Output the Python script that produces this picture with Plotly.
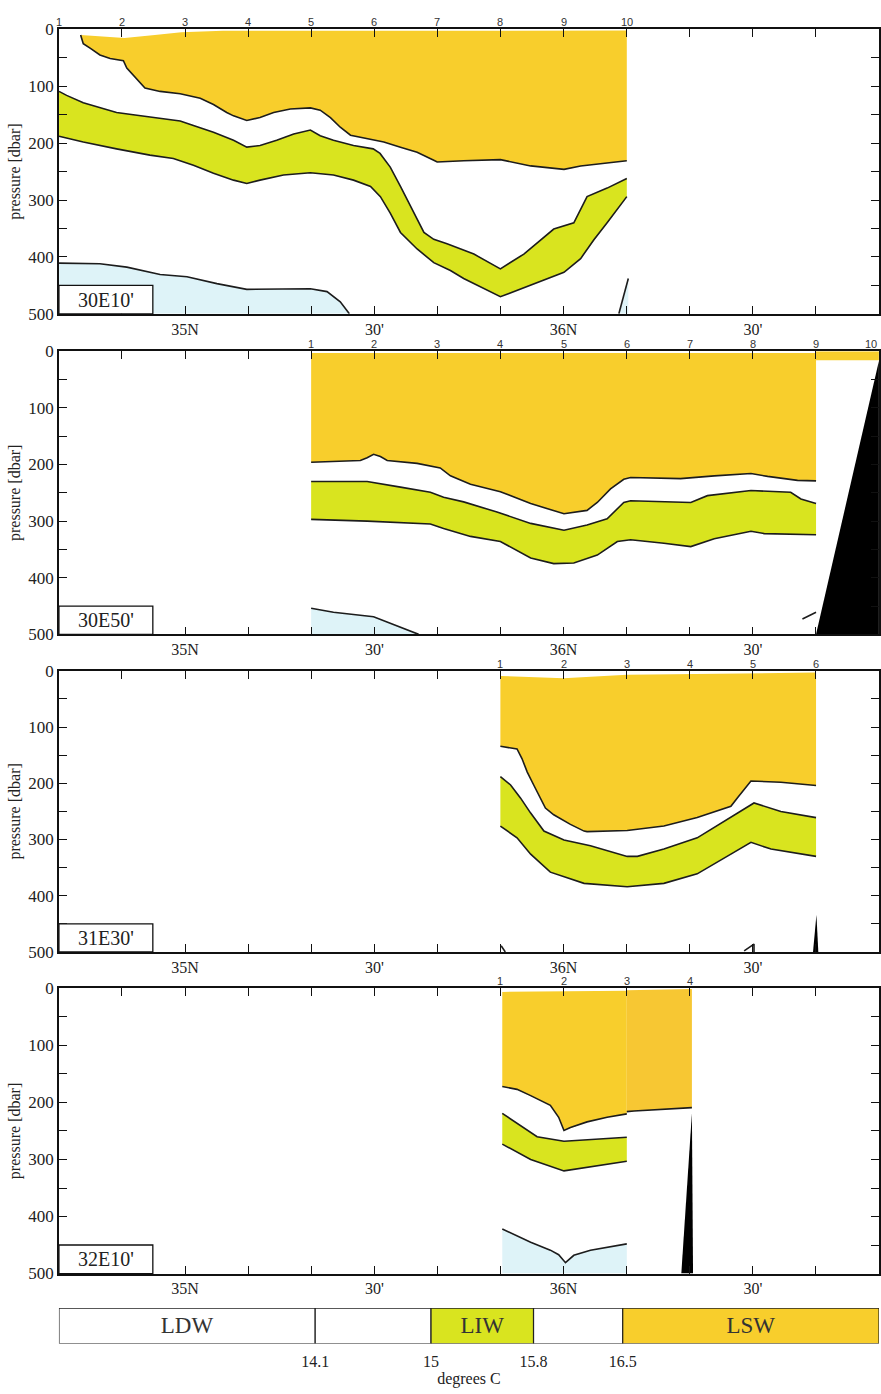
import numpy as np
import plotly.graph_objects as go

# ---------------------------------------------------------------------------
# Water-mass sections along four meridians (latitude in degrees N, pressure in dbar)
# ---------------------------------------------------------------------------
SECTION_NAMES = ["30E10'", "30E50'", "31E30'", "32E10'"]

LAT_RANGE = [34.6667, 36.8333]
P_MAX = 500

# latitude ticks every 10 minutes
TICK_LAT = [34.6667, 34.8333, 35.0, 35.1667, 35.3333, 35.5, 35.6667,
            35.8333, 36.0, 36.1667, 36.3333, 36.5, 36.6667, 36.8333]
TICK_LAT_TEXT = ["", "", "35N", "", "", "30'", "", "", "36N", "", "", "30'", "", ""]
TICK_P = [0, 50, 100, 150, 200, 250, 300, 350, 400, 450, 500]
TICK_P_TEXT = ["0", "", "100", "", "200", "", "300", "", "400", "", "500"]

# station positions per section
st1_lat = [34.6667, 34.8333, 35.0, 35.1667, 35.3333, 35.5, 35.6667, 35.8333, 36.0, 36.1667]
st2_lat = [35.3333, 35.5, 35.6667, 35.8333, 36.0, 36.1667, 36.3333, 36.5, 36.6667, 36.8333]
st3_lat = [35.8333, 36.0, 36.1667, 36.3333, 36.5, 36.6667]
st4_lat = [35.8333, 36.0, 36.1667, 36.3333]

# ---- section 1 : 30E10' ----
s1_lsw_top_lat = [34.724, 34.80, 34.84, 34.92, 34.99, 35.10, 35.60, 36.167]
s1_lsw_top_p = [10, 14, 15, 10, 5, 2.5, 2, 2]
s1_lsw_bot_lat = [34.724, 34.731, 34.749, 34.775, 34.802, 34.837, 34.846, 34.863, 34.881, 34.894,
                  34.934, 34.987, 35.040, 35.075, 35.110, 35.128, 35.163, 35.198, 35.234, 35.278,
                  35.331, 35.357, 35.384, 35.410, 35.437, 35.481, 35.525, 35.569, 35.613, 35.657,
                  35.666, 35.736, 35.833, 35.913, 36.001, 36.045, 36.167]
s1_lsw_bot_p = [10, 25, 33, 45, 51, 55, 68, 80, 94, 103,
                109, 113, 121, 132, 146, 152, 160, 155, 146, 140,
                138, 142, 155, 172, 186, 192, 198, 207, 216, 230,
                233, 231, 229, 240, 246, 240, 231]
s1_liw_up_lat = [34.667, 34.687, 34.731, 34.775, 34.819, 34.863, 34.916, 34.987, 35.022, 35.075,
                 35.128, 35.163, 35.198, 35.242, 35.287, 35.331, 35.357, 35.392, 35.445, 35.497,
                 35.515, 35.542, 35.569, 35.595, 35.631, 35.657, 35.692, 35.763, 35.833, 35.895,
                 35.974, 36.027, 36.062, 36.115, 36.167]
s1_liw_up_p = [109, 116, 129, 138, 146, 150, 155, 161, 169, 181,
               195, 207, 204, 195, 184, 177, 187, 195, 204, 210,
               218, 242, 276, 311, 357, 369, 377, 395, 421, 395,
               351, 340, 294, 279, 262]
s1_liw_lo_lat = [34.667, 34.731, 34.819, 34.907, 34.969, 35.022, 35.075, 35.128, 35.163, 35.198,
                 35.260, 35.331, 35.392, 35.445, 35.490, 35.516, 35.542, 35.569, 35.613, 35.657,
                 35.701, 35.736, 35.833, 35.913, 36.001, 36.045, 36.080, 36.115, 36.167]
s1_liw_lo_p = [188, 198, 210, 221, 227, 239, 253, 265, 271, 265,
               256, 252, 256, 265, 276, 294, 323, 357, 386, 410,
               424, 438, 470, 450, 427, 403, 370, 340, 294]
s1_ldw_lat = [34.667, 34.775, 34.846, 34.934, 35.005, 35.084, 35.163, 35.260, 35.331, 35.375,
              35.410, 35.434]
s1_ldw_p = [411, 412, 418, 431, 435, 447, 457, 457, 456, 461, 479, 500]
s1_ldw2_lat = [36.146, 36.159, 36.171]
s1_ldw2_p = [500, 467, 438]

# ---- section 2 : 30E50' ----
s2_lsw_top_lat = [35.333, 36.667]
s2_lsw_top_p = [3, 3]
s2_lsw_bot_lat = [35.333, 35.463, 35.481, 35.498, 35.516, 35.534, 35.613, 35.648, 35.674, 35.701,
                  35.754, 35.833, 35.913, 36.001, 36.062, 36.089, 36.124, 36.159, 36.177, 36.309,
                  36.398, 36.495, 36.539, 36.618, 36.667]
s2_lsw_bot_p = [196, 193, 188, 182, 186, 193, 198, 202, 206, 220,
                235, 248, 269, 287, 281, 267, 243, 226, 223, 225,
                220, 216, 221, 228, 229]
s2_lsw_strip_lat = [36.667, 36.833]
s2_lsw_strip_p = [0, 16]
s2_liw_up_lat = [35.333, 35.481, 35.569, 35.648, 35.683, 35.736, 35.824, 35.913, 36.001, 36.062,
                 36.115, 36.159, 36.177, 36.336, 36.380, 36.495, 36.600, 36.627, 36.667]
s2_liw_up_p = [230, 230, 240, 249, 258, 266, 284, 304, 316, 307,
               296, 267, 264, 267, 255, 246, 249, 261, 269]
s2_liw_lo_lat = [35.333, 35.481, 35.648, 35.683, 35.754, 35.833, 35.913, 35.974, 36.027, 36.089,
                 36.142, 36.177, 36.265, 36.336, 36.398, 36.495, 36.530, 36.667]
s2_liw_lo_p = [297, 300, 305, 313, 327, 336, 365, 375, 374, 360,
               336, 333, 339, 345, 331, 318, 322, 324]
s2_ldw_lat = [35.333, 35.392, 35.498, 35.569, 35.617]
s2_ldw_p = [454, 461, 469, 487, 500]
s2_ldw_frag_lat = [36.631, 36.667]
s2_ldw_frag_p = [473, 461]
s2_floor_lat = [36.667, 36.833, 36.833]
s2_floor_p = [500, 17, 500]

# ---- section 3 : 31E30' ----
s3_lsw_top_lat = [35.833, 35.95, 36.0, 36.167, 36.667]
s3_lsw_top_p = [9, 12, 13, 7, 3]
s3_lsw_bot_lat = [35.833, 35.877, 35.890, 35.904, 35.921, 35.939, 35.952, 35.974, 36.018, 36.054,
                  36.062, 36.168, 36.265, 36.353, 36.442, 36.459, 36.495, 36.574, 36.667]
s3_lsw_bot_p = [134, 139, 156, 180, 203, 226, 244, 256, 273, 285,
                286, 284, 276, 261, 241, 226, 196, 198, 204]
s3_liw_up_lat = [35.833, 35.860, 35.886, 35.913, 35.948, 36.001, 36.071, 36.168, 36.195, 36.265,
                 36.353, 36.442, 36.503, 36.574, 36.667]
s3_liw_up_p = [188, 203, 226, 253, 285, 301, 311, 330, 330, 317,
               297, 261, 235, 250, 261]
s3_liw_lo_lat = [35.833, 35.877, 35.913, 35.965, 36.054, 36.168, 36.265, 36.353, 36.442, 36.495,
                 36.548, 36.667]
s3_liw_lo_p = [276, 297, 326, 358, 378, 384, 378, 361, 326, 305, 317, 330]
s3_floor_lat = [36.659, 36.668, 36.673]
s3_floor_p = [500, 434, 500]
s3_mark1_lat = [35.835, 35.846]
s3_mark1_p = [489, 500]
s3_mark2_lat = [36.477, 36.503, 36.503]
s3_mark2_p = [498, 486, 500]

# ---- section 4 : 32E10' ----
s4_lsw_top_a_lat = [35.838, 36.0, 36.167]
s4_lsw_top_a_p = [6, 5, 4]
s4_lsw_bot_a_lat = [35.838, 35.877, 35.913, 35.939, 35.965, 35.987, 36.001, 36.018, 36.062, 36.115,
                    36.167]
s4_lsw_bot_a_p = [172, 177, 188, 197, 205, 226, 249, 244, 234, 226, 220]
s4_lsw_top_b_lat = [36.167, 36.339]
s4_lsw_top_b_p = [3, 1]
s4_lsw_bot_b_lat = [36.167, 36.186, 36.339]
s4_lsw_bot_b_p = [216, 215, 209]
s4_liw_up_lat = [35.838, 35.877, 35.930, 36.001, 36.167]
s4_liw_up_p = [219, 237, 260, 268, 261]
s4_liw_lo_lat = [35.838, 35.913, 36.001, 36.089, 36.167]
s4_liw_lo_p = [273, 300, 320, 311, 303]
s4_ldw_lat = [35.838, 35.913, 35.965, 35.987, 36.005, 36.027, 36.071, 36.167]
s4_ldw_p = [422, 445, 459, 467, 481, 468, 459, 448]
s4_floor_lat = [36.311, 36.339, 36.342]
s4_floor_p = [500, 219, 500]

# ---- temperature class key ----
KEY_NAMES = ["LDW", "", "LIW", "", "LSW"]
KEY_WIDTHS = [2.5, 1.13, 1.0, 0.87, 2.5]
KEY_TEMPS = ["14.1", "15", "15.8", "16.5"]

# ---------------------------------------------------------------------------
LSW_C = "#F8CE2C"
LSW_C2 = "#F7C733"
LIW_C = "#D9E41F"
LDW_C = "#DEF3F8"
EDGE_C = "#1C1C1C"
SERIF = "Liberation Serif, Times New Roman, serif"
SANS = "Liberation Sans, Arial, sans-serif"
TXT_C = "#222"

W, H = 881, 1394
X_DOM = [59 / W, 880 / W]
PANEL_PX = [(20.7, 309), (347, 634), (671, 956), (993, 1282)]
Y_DOMS = [[1 - b / H, 1 - t / H] for t, b in PANEL_PX]

fig = go.Figure()


def ax(k):
    return ("x", "y") if k == 1 else (f"x{k}", f"y{k}")


def band(lat_a, p_a, lat_b, p_b):
    """Closed outline of the area between an upper and a lower edge."""
    return list(lat_a) + list(lat_b)[::-1], list(p_a) + list(p_b)[::-1]


def to_bottom(lat, p):
    """Closed outline of the area below an edge down to the section floor."""
    return list(lat) + [lat[-1], lat[0]], list(p) + [P_MAX, P_MAX]


def add_fill(k, xs, ys, color):
    xa, ya = ax(k)
    fig.add_trace(go.Scatter(x=xs, y=ys, fill="toself", fillcolor=color, mode="lines",
                             line=dict(width=0, color=color), xaxis=xa, yaxis=ya,
                             hoverinfo="skip", showlegend=False))


def add_edge(k, xs, ys, width=1.6):
    xa, ya = ax(k)
    fig.add_trace(go.Scatter(x=xs, y=ys, mode="lines", line=dict(color=EDGE_C, width=width),
                             xaxis=xa, yaxis=ya, hoverinfo="skip", showlegend=False))


# section 1
add_fill(1, *band(s1_lsw_top_lat, s1_lsw_top_p, s1_lsw_bot_lat, s1_lsw_bot_p), LSW_C)
add_fill(1, *band(s1_liw_up_lat, s1_liw_up_p, s1_liw_lo_lat, s1_liw_lo_p), LIW_C)
add_fill(1, *to_bottom(s1_ldw_lat, s1_ldw_p), LDW_C)
add_fill(1, list(s1_ldw2_lat) + [s1_ldw2_lat[-1]], list(s1_ldw2_p) + [P_MAX], LDW_C)
for lat, p in [(s1_lsw_bot_lat, s1_lsw_bot_p), (s1_liw_up_lat, s1_liw_up_p),
               (s1_liw_lo_lat, s1_liw_lo_p), (s1_ldw_lat, s1_ldw_p), (s1_ldw2_lat, s1_ldw2_p)]:
    add_edge(1, lat, p)

# section 2
add_fill(2, *band(s2_lsw_top_lat, s2_lsw_top_p, s2_lsw_bot_lat, s2_lsw_bot_p), LSW_C)
add_fill(2, *band(s2_lsw_strip_lat, [s2_lsw_strip_p[0]] * 2,
                  s2_lsw_strip_lat, [s2_lsw_strip_p[1]] * 2), LSW_C)
add_fill(2, *band(s2_liw_up_lat, s2_liw_up_p, s2_liw_lo_lat, s2_liw_lo_p), LIW_C)
add_fill(2, *to_bottom(s2_ldw_lat, s2_ldw_p), LDW_C)
for lat, p in [(s2_lsw_bot_lat, s2_lsw_bot_p), (s2_liw_up_lat, s2_liw_up_p),
               (s2_liw_lo_lat, s2_liw_lo_p), (s2_ldw_lat, s2_ldw_p),
               (s2_ldw_frag_lat, s2_ldw_frag_p)]:
    add_edge(2, lat, p)
add_fill(2, s2_floor_lat, s2_floor_p, "#000000")

# section 3
add_fill(3, *band(s3_lsw_top_lat, s3_lsw_top_p, s3_lsw_bot_lat, s3_lsw_bot_p), LSW_C)
add_fill(3, *band(s3_liw_up_lat, s3_liw_up_p, s3_liw_lo_lat, s3_liw_lo_p), LIW_C)
for lat, p in [(s3_lsw_bot_lat, s3_lsw_bot_p), (s3_liw_up_lat, s3_liw_up_p),
               (s3_liw_lo_lat, s3_liw_lo_p), (s3_mark1_lat, s3_mark1_p),
               (s3_mark2_lat, s3_mark2_p)]:
    add_edge(3, lat, p)
add_fill(3, s3_floor_lat, s3_floor_p, "#000000")

# section 4
add_fill(4, *band(s4_lsw_top_a_lat, s4_lsw_top_a_p, s4_lsw_bot_a_lat, s4_lsw_bot_a_p), LSW_C)
add_fill(4, *band(s4_lsw_top_b_lat, s4_lsw_top_b_p, s4_lsw_bot_b_lat, s4_lsw_bot_b_p), LSW_C2)
add_fill(4, *band(s4_liw_up_lat, s4_liw_up_p, s4_liw_lo_lat, s4_liw_lo_p), LIW_C)
add_fill(4, *to_bottom(s4_ldw_lat, s4_ldw_p), LDW_C)
for lat, p in [(s4_lsw_bot_a_lat, s4_lsw_bot_a_p), (s4_lsw_bot_b_lat, s4_lsw_bot_b_p),
               (s4_liw_up_lat, s4_liw_up_p), (s4_liw_lo_lat, s4_liw_lo_p),
               (s4_ldw_lat, s4_ldw_p)]:
    add_edge(4, lat, p)
add_fill(4, s4_floor_lat, s4_floor_p, "#000000")

# ---------------------------------------------------------------------------
layout = dict(width=W, height=H, margin=dict(l=0, r=0, t=0, b=0),
              paper_bgcolor="white", plot_bgcolor="white", hovermode=False,
              showlegend=False, shapes=[], annotations=[])

stations = [st1_lat, st2_lat, st3_lat, st4_lat]
for k in range(1, 5):
    xk = "xaxis" if k == 1 else f"xaxis{k}"
    yk = "yaxis" if k == 1 else f"yaxis{k}"
    xa, ya = ax(k)
    layout[xk] = dict(domain=X_DOM, range=LAT_RANGE, anchor=ya, tickmode="array",
                      tickvals=TICK_LAT, ticktext=TICK_LAT_TEXT, ticks="inside", ticklen=8,
                      tickwidth=1.3, tickcolor="#111", showline=True, linecolor="#111",
                      linewidth=1.5, mirror="ticks", showgrid=False, zeroline=False,
                      tickfont=dict(family=SERIF, size=16, color=TXT_C))
    layout[yk] = dict(domain=Y_DOMS[k - 1], range=[P_MAX, 0], anchor=xa, tickmode="array",
                      tickvals=TICK_P, ticktext=TICK_P_TEXT, ticks="inside", ticklen=8,
                      tickwidth=1.3, tickcolor="#111", showline=True, linecolor="#111",
                      linewidth=1.5, mirror="ticks", showgrid=False, zeroline=False,
                      tickfont=dict(family=SERIF, size=17, color=TXT_C),
                      title=dict(text="pressure [dbar]", standoff=4,
                                 font=dict(family=SERIF, size=16, color=TXT_C)))
    # station numbers along the top edge
    st = stations[k - 1]
    for i, lat in enumerate(st, start=1):
        at_edge = lat >= LAT_RANGE[1] - 1e-6
        layout["annotations"].append(dict(
            x=lat, xref=xa, y=1, yref=f"{ya} domain", yanchor="bottom",
            xanchor="right" if at_edge else "center", yshift=-1,
            text=str(i), showarrow=False, font=dict(family=SANS, size=11, color="#333")))
    # section label box in the lower-left corner
    layout["shapes"].append(dict(type="rect", xref=f"{xa} domain", yref=f"{ya} domain",
                                 x0=0, x1=0.1145, y0=0, y1=0.1, fillcolor="white",
                                 line=dict(color="#111", width=1.3), layer="above"))
    layout["annotations"].append(dict(
        x=0.057, xref=f"{xa} domain", y=0.05, yref=f"{ya} domain",
        xanchor="center", yanchor="middle", text=SECTION_NAMES[k - 1],
        showarrow=False, font=dict(family=SERIF, size=20, color=TXT_C)))

# temperature class key
key_starts = np.concatenate([[0.0], np.cumsum(KEY_WIDTHS)[:-1]])
key_bounds = np.cumsum(KEY_WIDTHS)[:-1]
key_colors = ["white", "white", LIW_C, "white", LSW_C]
fig.add_trace(go.Bar(x=KEY_WIDTHS, base=key_starts, y=[0] * len(KEY_WIDTHS), orientation="h",
                     width=1, marker=dict(color=key_colors, line=dict(color="#222", width=1.2)),
                     text=KEY_NAMES, textposition="inside", insidetextanchor="middle",
                     textangle=0, textfont=dict(family=SERIF, size=23, color="#333"),
                     xaxis="x5", yaxis="y5", hoverinfo="skip", showlegend=False))
layout["xaxis5"] = dict(domain=X_DOM, range=[0, float(np.sum(KEY_WIDTHS))], anchor="y5",
                        tickmode="array", tickvals=list(key_bounds), ticktext=KEY_TEMPS,
                        ticks="outside", ticklen=3, tickcolor="rgba(0,0,0,0)",
                        showline=False, showgrid=False, zeroline=False,
                        tickfont=dict(family=SERIF, size=16, color=TXT_C),
                        title=dict(text="degrees C", standoff=4,
                                   font=dict(family=SERIF, size=16, color=TXT_C)))
layout["yaxis5"] = dict(domain=[1 - 1353 / H, 1 - 1317 / H], range=[-0.5, 0.5], anchor="x5",
                        visible=False, fixedrange=True)
layout["uniformtext"] = dict(minsize=10, mode="show")

fig.update_layout(**layout)
fig.write_html("out.html")
